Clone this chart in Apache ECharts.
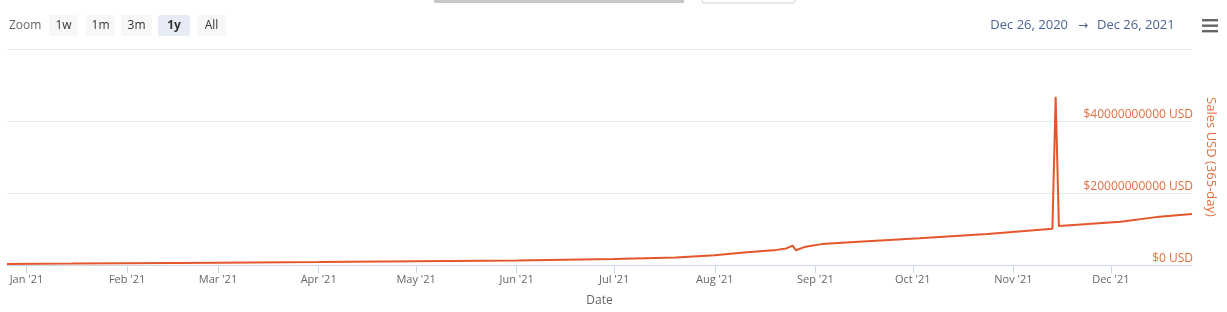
<!DOCTYPE html>
<html>
<head>
<meta charset="utf-8">
<script src="https://cdn.jsdelivr.net/npm/echarts@6/dist/echarts.min.js"></script>
<style>
html,body{margin:0;padding:0;background:#fff;}
#chart{width:1227px;height:312px;}
</style>
</head>
<body>
<div id="chart"></div>
<script>
// Data (values in billions of USD)
const dates = [
  '2020-12-26','2021-01-15','2021-02-01','2021-03-01','2021-04-01','2021-05-01',
  '2021-06-01','2021-07-01','2021-07-20','2021-08-01','2021-08-10','2021-08-20',
  '2021-08-23','2021-08-25','2021-08-26','2021-08-29','2021-09-03','2021-09-13',
  '2021-10-03','2021-10-24','2021-11-13','2021-11-14','2021-11-15','2021-12-04',
  '2021-12-15','2021-12-26'
];
const salesBillions = [
  0.3, 0.4, 0.5, 0.65, 0.85, 1.05,
  1.25, 1.65, 2.1, 2.7, 3.5, 4.2,
  4.6, 5.4, 4.1, 5.1, 5.8, 6.4,
  7.4, 8.6, 10.1, 46.7, 10.8, 12.0,
  13.3, 14.2
];
const yTicks = [0, 20000000000, 40000000000, 60000000000];
const monthNames = ['Jan','Feb','Mar','Apr','May','Jun','Jul','Aug','Sep','Oct','Nov','Dec'];
const zoomButtons = ['1w','1m','3m','1y','All'];
const rangeFrom = 'Dec 26, 2020';
const rangeTo = 'Dec 26, 2021';

const FONT = '"Open Sans", "DejaVu Sans", sans-serif';
const lineColor = '#e4572a';
const seriesData = dates.map((d, i) => [d, salesBillions[i] * 1e9]);

const btnX = [49, 86, 121, 158, 197];
const btnW = [29, 29, 31, 32, 29];
const graphics = [
  {type:'rect', shape:{x:434,y:-2,width:250,height:5}, style:{fill:'#c8c8c8'}},
  {type:'rect', shape:{x:702,y:-4,width:93,height:7,r:2}, style:{fill:'#fff',stroke:'#d0d0d0',lineWidth:1}},
  {type:'text', x:9, y:25.5, style:{text:'Zoom', font:'12px ' + FONT, fill:'#666', verticalAlign:'middle'}}
];
zoomButtons.forEach((b, i) => {
  const sel = b === '1y';
  graphics.push({type:'rect', shape:{x:btnX[i], y:15, width:btnW[i], height:21, r:2},
    style:{fill: sel ? '#e6ebf5' : '#f7f7f7'}});
  graphics.push({type:'text', x:btnX[i] + btnW[i]/2, y:25.5,
    style:{text:b, font:(sel ? 'bold ' : '') + '12px ' + FONT, fill:'#333', align:'center', verticalAlign:'middle'}});
});
graphics.push({type:'text', x:1068, y:25.5, style:{text:rangeFrom, font:'13px ' + FONT, fill:'#4a6490', align:'right', verticalAlign:'middle'}});
graphics.push({type:'text', x:1083, y:25.5, style:{text:'→', font:'12px ' + FONT, fill:'#4a6490', align:'center', verticalAlign:'middle'}});
graphics.push({type:'text', x:1097, y:25.5, style:{text:rangeTo, font:'13px ' + FONT, fill:'#4a6490', align:'left', verticalAlign:'middle'}});
[20, 25.5, 31].forEach(y => {
  graphics.push({type:'rect', shape:{x:1202, y:y-1, width:16, height:2.4}, style:{fill:'#666'}});
});

const chart = echarts.init(document.getElementById('chart'), null, {renderer:'canvas'});
chart.setOption({
  animation: false,
  backgroundColor: '#fff',
  textStyle: {fontFamily: FONT},
  graphic: graphics,
  grid: {left: 7, right: 35, top: 49, bottom: 47, containLabel: false},
  xAxis: {
    type: 'time',
    min: '2020-12-26',
    max: '2021-12-26',
    minInterval: 28 * 86400000,
    maxInterval: 31 * 86400000,
    splitNumber: 12,
    name: 'Date',
    nameLocation: 'middle',
    nameGap: 30,
    nameTextStyle: {color: '#666', fontSize: 12, fontFamily: FONT},
    axisLine: {show: true, lineStyle: {color: '#ccd6eb'}},
    axisTick: {show: true, length: 8, lineStyle: {color: '#ccd6eb'}},
    axisLabel: {
      color: '#666', fontSize: 11, fontFamily: FONT, margin: 9, hideOverlap: false,
      formatter: function (v) {
        const d = new Date(v);
        return monthNames[d.getMonth()] + " '" + String(d.getFullYear()).slice(2);
      }
    },
    splitLine: {show: false}
  },
  yAxis: {
    type: 'value',
    position: 'right',
    min: yTicks[0],
    max: yTicks[yTicks.length - 1],
    interval: yTicks[1] - yTicks[0],
    name: 'Sales USD (365-day)',
    nameLocation: 'middle',
    nameRotate: -90,
    nameGap: 11,
    nameTextStyle: {color: '#e0703f', fontSize: 13, fontFamily: FONT},
    axisLine: {show: false},
    axisTick: {show: false},
    axisLabel: {
      inside: true, margin: -1, color: '#e0703f', fontSize: 12, fontFamily: FONT,
      verticalAlign: 'bottom', padding: [0, 0, 0, 0],
      formatter: function (v) { return v === yTicks[yTicks.length - 1] ? '' : '$' + v + ' USD'; }
    },
    splitLine: {show: true, lineStyle: {color: '#e6e6e6', width: 1}}
  },
  series: [{
    type: 'line',
    data: seriesData,
    showSymbol: false,
    symbol: 'none',
    lineStyle: {color: lineColor, width: 2},
    itemStyle: {color: lineColor}
  }]
});
</script>
</body>
</html>
